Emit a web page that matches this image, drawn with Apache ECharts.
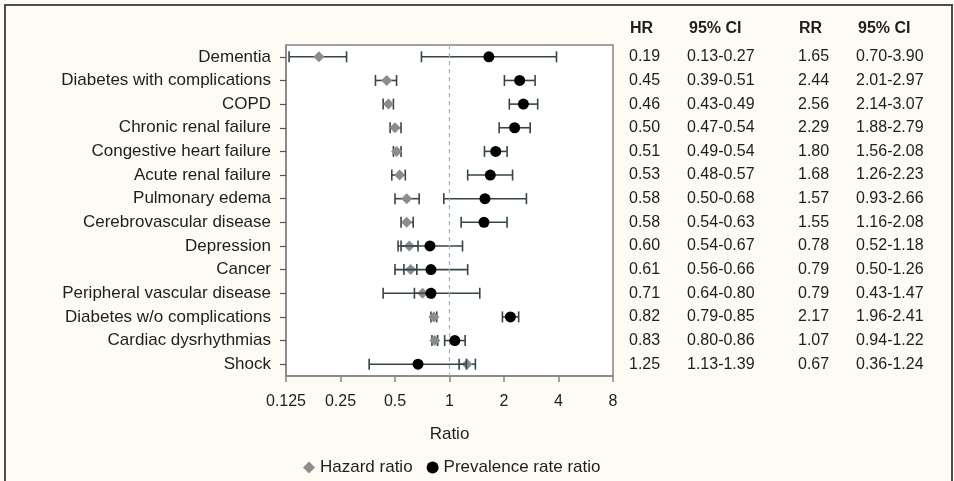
<!DOCTYPE html>
<html><head><meta charset="utf-8">
<script src="https://cdn.jsdelivr.net/npm/echarts@6/dist/echarts.min.js"></script>
<style>html,body{margin:0;padding:0;background:#fdfbf4}#c{width:954px;height:481px}</style>
</head><body><div id="c"></div>
<script>
var categories = ['Dementia','Diabetes with complications','COPD','Chronic renal failure','Congestive heart failure','Acute renal failure','Pulmonary edema','Cerebrovascular disease','Depression','Cancer','Peripheral vascular disease','Diabetes w/o complications','Cardiac dysrhythmias','Shock'];
var hr   = [0.19,0.45,0.46,0.50,0.51,0.53,0.58,0.58,0.60,0.61,0.71,0.82,0.83,1.25];
var hrLo = [0.13,0.39,0.43,0.47,0.49,0.48,0.50,0.54,0.54,0.56,0.64,0.79,0.80,1.13];
var hrHi = [0.27,0.51,0.49,0.54,0.54,0.57,0.68,0.63,0.67,0.66,0.80,0.85,0.86,1.39];
var rr   = [1.65,2.44,2.56,2.29,1.80,1.68,1.57,1.55,0.78,0.79,0.79,2.17,1.07,0.67];
var rrLo = [0.70,2.01,2.14,1.88,1.56,1.26,0.93,1.16,0.52,0.50,0.43,1.96,0.94,0.36];
var rrHi = [3.90,2.97,3.07,2.79,2.08,2.23,2.66,2.08,1.18,1.26,1.47,2.41,1.22,1.24];
var xTicks = ['0.125','0.25','0.5','1','2','4','8'];
var headers = ['HR','95% CI','RR','95% CI'];

function f2(v){return v.toFixed(2);}
var hrText = hr.map(f2);
var hrCI = hrLo.map(function(v,i){return f2(v)+'-'+f2(hrHi[i]);});
var rrText = rr.map(f2);
var rrCI = rrLo.map(function(v,i){return f2(v)+'-'+f2(rrHi[i]);});

var FONT = '"Liberation Sans", Arial, sans-serif';
var barColor = '#34454c';

function errBar(lo, hi){
  return lo.map(function(v,i){return [v, hi[i], i];});
}
function renderErr(params, api){
  var y = api.value(2);
  var p1 = api.coord([api.value(0), y]);
  var p2 = api.coord([api.value(1), y]);
  var h = 5.5;
  var st = {stroke: barColor, lineWidth: 1.6, fill: null};
  return {type:'group', children:[
    {type:'line', shape:{x1:p1[0],y1:p1[1],x2:p2[0],y2:p2[1]}, style:st},
    {type:'line', shape:{x1:p1[0],y1:p1[1]-h,x2:p1[0],y2:p1[1]+h}, style:st},
    {type:'line', shape:{x1:p2[0],y1:p2[1]-h,x2:p2[0],y2:p2[1]+h}, style:st}
  ]};
}

var tableCols = [hrText, hrCI, rrText, rrCI];
var colOffsets = [16, 74, 185, 243];
var extraY = tableCols.map(function(col, k){
  return {type:'category', data:categories, inverse:true, position:'right', offset:colOffsets[k],
    axisLine:{show:false}, axisTick:{show:false}, splitLine:{show:false},
    axisLabel:{margin:0, align:'left', fontSize:16, color:'#1e1e1e', fontFamily:FONT,
      formatter:function(v, idx){return col[idx];}}};
});
var headerX = [630, 689, 799, 858];

var chart = echarts.init(document.getElementById('c'));
chart.setOption({
  backgroundColor:'#fdfbf4',
  animation:false,
  grid:{left:286, top:45, width:327, height:331, show:true, backgroundColor:'#ffffff', borderColor:'#858585', borderWidth:1.5},
  xAxis:{type:'log', logBase:2, min:0.125, max:8, interval:1,
    name:'Ratio', nameLocation:'middle', nameGap:50,
    nameTextStyle:{fontSize:17, color:'#1e1e1e', fontFamily:FONT},
    axisLine:{show:true, lineStyle:{color:'#858585', width:1.5}},
    axisTick:{show:true, length:6, lineStyle:{color:'#858585', width:1.5}},
    splitLine:{show:false},
    axisLabel:{margin:18, fontSize:16, color:'#1e1e1e', fontFamily:FONT,
      formatter:function(v){var s=String(+v.toPrecision(3)); return xTicks.indexOf(s)>=0?s:'';}}
  },
  yAxis:[{type:'category', data:categories, inverse:true,
    axisLine:{show:true, lineStyle:{color:'#858585', width:1.5}},
    axisTick:{show:true, alignWithLabel:true, length:6, lineStyle:{color:'#555', width:1.2}},
    splitLine:{show:false},
    axisLabel:{margin:15, fontSize:17, color:'#1e1e1e', fontFamily:FONT}
  }].concat(extraY),
  legend:{left:298, top:454, itemWidth:12, itemHeight:12, itemGap:14,
    textStyle:{fontSize:17, color:'#1e1e1e', fontFamily:FONT},
    data:[{name:'Hazard ratio', icon:'diamond'},{name:'Prevalence rate ratio', icon:'circle'}]},
  graphic:[
    {type:'rect', shape:{x:5,y:5,width:947,height:490}, style:{fill:null, stroke:'#4d4d4d', lineWidth:2}, silent:true}
  ].concat(headers.map(function(h,i){
    return {type:'text', left:headerX[i], top:21, style:{text:h, font:'bold 16px "Liberation Sans Narrow", "Arial Narrow", "Liberation Sans", sans-serif', fill:'#1e1e1e'}};
  })),
  series:[
    {type:'custom', name:'hrErr', renderItem:renderErr, encode:{x:[0,1], y:2}, data:errBar(hrLo,hrHi), z:2, silent:true},
    {type:'scatter', name:'Hazard ratio', symbol:'diamond', symbolSize:11, itemStyle:{color:'#8c8c8c', opacity:1},
      data:hr.map(function(v,i){return [v,i];}), z:3,
      markLine:{silent:true, symbol:'none', label:{show:false}, lineStyle:{type:[4,4], color:'#a3b3bd', width:1.2},
        data:[{xAxis:1}]}},
    {type:'custom', name:'rrErr', renderItem:renderErr, encode:{x:[0,1], y:2}, data:errBar(rrLo,rrHi), z:4, silent:true},
    {type:'scatter', name:'Prevalence rate ratio', symbol:'circle', symbolSize:11, itemStyle:{color:'#000000', opacity:1},
      data:rr.map(function(v,i){return [v,i];}), z:5}
  ]
});
</script>
</body></html>
